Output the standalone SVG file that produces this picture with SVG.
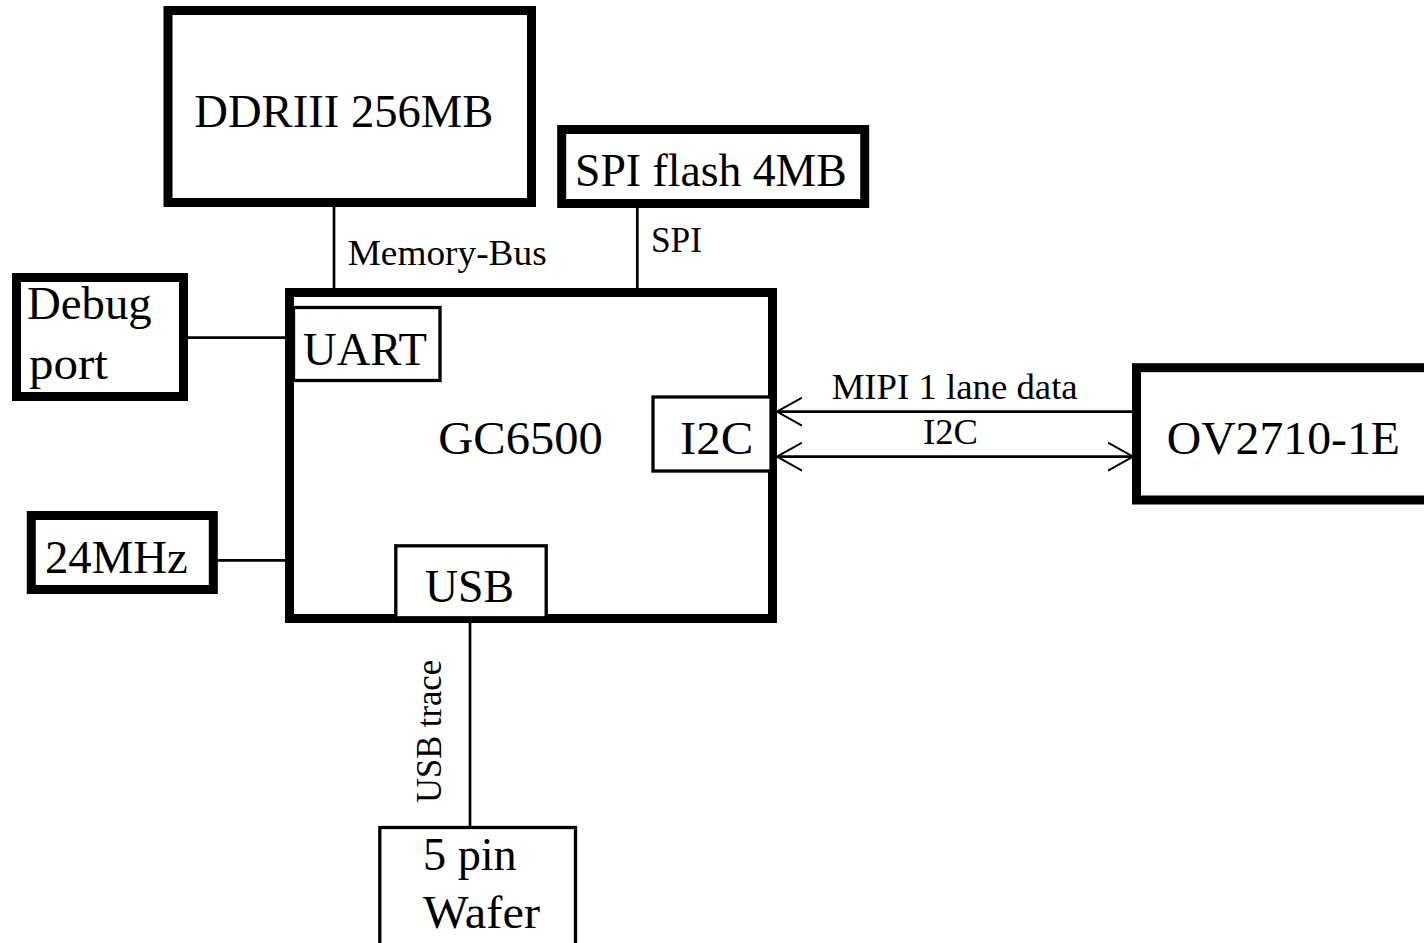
<svg xmlns="http://www.w3.org/2000/svg" width="1424" height="943" viewBox="0 0 1424 943">
<style>
  .box { fill: #fff; stroke: #000; stroke-width: 9; }
  .sub { fill: #fff; stroke: #000; stroke-width: 3.3; }
  .ln { fill: none; stroke: #000; stroke-width: 2.7; }
  .big { font-family: "Liberation Serif", "Times New Roman", serif; font-size: 47px; fill: #000; }
  .lbl { font-family: "Liberation Serif", "Times New Roman", serif; font-size: 36px; fill: #000; }
</style>
<defs>
  <marker id="arr" viewBox="0 0 26 30" refX="25" refY="15" markerWidth="26" markerHeight="30" markerUnits="userSpaceOnUse" orient="auto-start-reverse">
    <path d="M0,1 L25,15 L0,29" fill="none" stroke="#000" stroke-width="2"/>
  </marker>
</defs>
<rect width="1424" height="943" fill="#fff"/>

<g id="connectors">
  <line class="ln" x1="334" y1="207" x2="334" y2="289"/>
  <line class="ln" x1="637.3" y1="207" x2="637.3" y2="289"/>
  <line class="ln" x1="188" y1="337.7" x2="286" y2="337.7"/>
  <line class="ln" x1="217" y1="560.3" x2="286" y2="560.3"/>
  <line class="ln" x1="470" y1="622" x2="470" y2="828"/>
  <line class="ln" x1="777" y1="411.7" x2="1133" y2="411.7" marker-start="url(#arr)"/>
  <line class="ln" x1="777" y1="456.7" x2="1133" y2="456.7" marker-start="url(#arr)" marker-end="url(#arr)"/>
  <text class="lbl" x="347.7" y="265" textLength="199" lengthAdjust="spacingAndGlyphs">Memory-Bus</text>
  <text class="lbl" x="651" y="252.3" textLength="51" lengthAdjust="spacingAndGlyphs">SPI</text>
  <text class="lbl" x="831.7" y="399" textLength="246" lengthAdjust="spacingAndGlyphs">MIPI 1 lane data</text>
  <text class="lbl" x="923" y="444" textLength="55" lengthAdjust="spacingAndGlyphs">I2C</text>
  <text class="lbl" transform="translate(441,803) rotate(-90)" x="0" y="0" textLength="143" lengthAdjust="spacingAndGlyphs">USB trace</text>
</g>

<g id="ddr">
  <rect class="box" x="168" y="10.5" width="363.5" height="192"/>
  <text class="big" x="194.3" y="127" textLength="299" lengthAdjust="spacingAndGlyphs">DDRIII 256MB</text>
</g>

<g id="spiflash">
  <rect class="box" x="561.7" y="129.5" width="303" height="74"/>
  <text class="big" x="575" y="186" textLength="271.7" lengthAdjust="spacingAndGlyphs">SPI flash 4MB</text>
</g>

<g id="debug">
  <rect class="box" x="16.5" y="277.5" width="167" height="119"/>
  <text class="big" x="27" y="319" textLength="124.7" lengthAdjust="spacingAndGlyphs">Debug</text>
  <text class="big" x="29" y="379" textLength="79" lengthAdjust="spacingAndGlyphs">port</text>
</g>

<g id="osc">
  <rect class="box" x="31.3" y="515.5" width="182" height="74"/>
  <text class="big" x="45" y="572.7" textLength="142.7" lengthAdjust="spacingAndGlyphs">24MHz</text>
</g>

<g id="gc6500">
  <rect class="box" x="289.5" y="292.5" width="483" height="326"/>
  <text class="big" x="438.3" y="454" textLength="164.4" lengthAdjust="spacingAndGlyphs">GC6500</text>
  <g id="uart">
    <rect class="sub" x="293.5" y="307.5" width="146.5" height="73"/>
    <text class="big" x="303" y="365" textLength="124" lengthAdjust="spacingAndGlyphs">UART</text>
  </g>
  <g id="i2c">
    <rect class="sub" x="653" y="397" width="118" height="74"/>
    <text class="big" x="680" y="454" textLength="73.3" lengthAdjust="spacingAndGlyphs">I2C</text>
  </g>
  <g id="usb">
    <rect class="sub" x="395.8" y="545.8" width="150.4" height="72"/>
    <text class="big" x="425" y="602" textLength="89" lengthAdjust="spacingAndGlyphs">USB</text>
  </g>
</g>

<g id="ov2710">
  <rect class="box" x="1136.5" y="367.7" width="400" height="132.3"/>
  <text class="big" x="1166.7" y="454" textLength="233.3" lengthAdjust="spacingAndGlyphs">OV2710-1E</text>
</g>

<g id="wafer">
  <rect class="sub" x="379.8" y="827.5" width="195.7" height="200"/>
  <text class="big" x="423" y="870" textLength="93.7" lengthAdjust="spacingAndGlyphs">5 pin</text>
  <text class="big" x="423" y="928" textLength="117" lengthAdjust="spacingAndGlyphs">Wafer</text>
</g>
</svg>
